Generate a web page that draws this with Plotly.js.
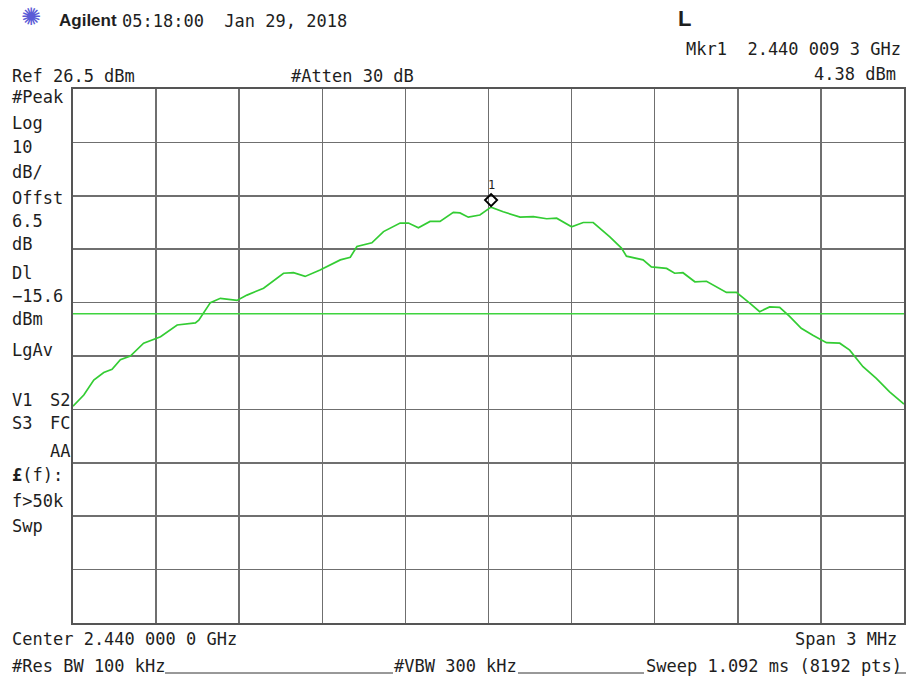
<!DOCTYPE html>
<html>
<head>
<meta charset="utf-8">
<script src="https://cdn.plot.ly/plotly-3.0.1.min.js"></script>
<style>
  html, body { margin: 0; padding: 0; background: #ffffff; }
  #chart { width: 907px; height: 676px; }
</style>
</head>
<body>
<div id="chart"></div>
<script>
// Swept spectrum trace, 2.44 GHz centre, 3 MHz span
const freqMHz = [
  2438.500, 2438.539, 2438.575, 2438.611, 2438.641, 2438.671, 2438.707, 2438.755, 2438.816, 2438.876,
  2438.942, 2438.954, 2438.996, 2439.032, 2439.092, 2439.128, 2439.188, 2439.260, 2439.296, 2439.338,
  2439.392, 2439.465, 2439.501, 2439.525, 2439.579, 2439.621, 2439.681, 2439.711, 2439.747, 2439.789,
  2439.825, 2439.873, 2439.897, 2439.927, 2439.969, 2440.009, 2440.053, 2440.114, 2440.162, 2440.210,
  2440.246, 2440.300, 2440.342, 2440.378, 2440.438, 2440.480, 2440.498, 2440.558, 2440.588, 2440.643,
  2440.672, 2440.702, 2440.745, 2440.787, 2440.859, 2440.895, 2440.943, 2440.979, 2441.015, 2441.051,
  2441.087, 2441.129, 2441.171, 2441.220, 2441.268, 2441.304, 2441.352, 2441.400, 2441.448, 2441.500
];
const levelDbm = [
  -32.9, -30.8, -28.0, -26.6, -26.0, -24.2, -23.5, -21.1, -19.9, -17.7,
  -17.3, -16.8, -13.5, -12.7, -13.1, -12.1, -10.8, -8.0, -7.9, -8.6,
  -7.4, -5.5, -5.0, -3.0, -2.3, -0.2, 1.4, 1.4, 0.5, 1.7,
  1.7, 3.4, 3.3, 2.5, 2.9, 4.38, 3.5, 2.5, 2.6, 2.2,
  2.3, 0.7, 1.5, 1.5, -1.2, -3.3, -4.8, -5.5, -6.8, -7.1,
  -8.0, -7.9, -9.6, -9.5, -11.6, -11.6, -13.6, -15.2, -14.3, -14.4,
  -16.1, -18.3, -19.6, -21.0, -21.1, -22.4, -25.5, -27.7, -30.2, -32.5
];

// Instrument settings
const centerMHz = 2440.0;
const spanMHz = 3;
const refLevel = 26.5;
const dbPerDiv = 10;
const displayLine = -15.6;
const markerFreqMHz = 2440.0093;
const markerLevel = 4.38;

// Screen annotation texts
const leftPanel = ["#Peak", "Log", "10", "dB/", "Offst", "6.5", "dB", "Dl", "\u221215.6", "dBm", "LgAv"];
const leftPanelY = [97, 123, 147, 172, 198, 221, 244, 273, 296, 319, 350];

const W = 907, H = 676;
const M = { l: 73, r: 3, t: 89, b: 53 };
const PW = W - M.l - M.r, PH = H - M.t - M.b;
const px = x => (x - M.l) / PW;
const py = y => (H - M.b - y) / PH;

const MONO = "DejaVu Sans Mono";
const INK = "#1e1e1e";

function label(text, x, y, anchor, opts) {
  opts = opts || {};
  return {
    xref: "paper", yref: "paper",
    x: px(x), y: py(y),
    xanchor: anchor || "left", yanchor: "middle",
    text: text, showarrow: false,
    font: { family: opts.family || MONO, size: opts.size || 17, color: opts.color || INK },
    borderpad: 0
  };
}

const annotations = [
  label("\u273A", 31, 17, "center", { family: "DejaVu Sans", size: 24, color: "#5b5bd6" }),
  label("<b>Agilent</b>", 58, 21, "left", { family: "Liberation Sans", size: 17 }),
  label("05:18:00  Jan 29, 2018", 121, 21, "left"),
  label("<b>L</b>", 677, 19, "left", { family: "Liberation Sans", size: 22 }),
  label("Mkr1  2.440 009 3 GHz", 902, 49, "right"),
  label(markerLevel.toFixed(2) + " dBm", 897, 74, "right"),
  label("Ref " + refLevel + " dBm", 11, 75.5, "left"),
  label("#Atten 30 dB", 290, 75.5, "left"),
  label("V1", 11, 400, "left"),
  label("S2", 71, 400, "right"),
  label("S3", 11, 423, "left"),
  label("FC", 71, 423, "right"),
  label("AA", 71, 451, "right"),
  label("<b>\u00A3</b>(f):", 11, 475, "left"),
  label("f>50k", 11, 501, "left"),
  label("Swp", 11, 526, "left"),
  label("Center 2.440 000 0 GHz", 11, 639, "left"),
  label("Span " + spanMHz + " MHz", 898, 639, "right"),
  label("#Res BW 100 kHz", 11, 665.5, "left"),
  label("#VBW 300 kHz", 393, 665.5, "left"),
  label("Sweep 1.092 ms (8192 pts)", 645, 665.5, "left"),
  // marker number above the diamond
  {
    x: markerFreqMHz, y: markerLevel, xref: "x", yref: "y",
    text: "1", showarrow: false, yshift: 22, xanchor: "center", yanchor: "middle",
    font: { family: MONO, size: 12, color: INK }
  }
];
leftPanel.forEach((t, i) => annotations.push(label(t, 11, leftPanelY[i], "left")));

function underline(x0, x1) {
  return {
    type: "line", xref: "paper", yref: "paper",
    x0: px(x0), x1: px(x1), y0: py(673), y1: py(673),
    line: { color: "#333333", width: 1 }
  };
}

const shapes = [
  // display line
  {
    type: "line", xref: "paper", yref: "y", x0: 0, x1: 1,
    y0: displayLine, y1: displayLine,
    line: { color: "#3fd43f", width: 1.5 }
  },
  // marker diamond sitting on the trace point
  {
    type: "path", xref: "x", yref: "y",
    xsizemode: "pixel", ysizemode: "pixel",
    xanchor: markerFreqMHz, yanchor: markerLevel,
    path: "M0,1 L6,7 L0,13 L-6,7 Z",
    line: { color: "#000000", width: 2 },
    fillcolor: "rgba(0,0,0,0)"
  },
  underline(165, 393),
  underline(518, 644),
  underline(895, 906)
];

const trace = {
  x: freqMHz, y: levelDbm,
  type: "scatter", mode: "lines",
  line: { color: "#33cc33", width: 1.7 },
  hoverinfo: "skip"
};

const half = spanMHz / 2;
const layout = {
  width: W, height: H,
  margin: M,
  paper_bgcolor: "#ffffff", plot_bgcolor: "#ffffff",
  showlegend: false,
  xaxis: {
    range: [centerMHz - half, centerMHz + half],
    tick0: centerMHz - half, dtick: spanMHz / 10,
    showgrid: true, gridcolor: "#6f6f6f", gridwidth: 1.5,
    showticklabels: false, ticks: "", zeroline: false,
    showline: true, mirror: true, linecolor: "#555555", linewidth: 2
  },
  yaxis: {
    range: [refLevel - 10 * dbPerDiv, refLevel],
    tick0: refLevel, dtick: dbPerDiv,
    showgrid: true, gridcolor: "#6f6f6f", gridwidth: 1.5,
    showticklabels: false, ticks: "", zeroline: false,
    showline: true, mirror: true, linecolor: "#555555", linewidth: 2
  },
  annotations: annotations,
  shapes: shapes
};

Plotly.newPlot("chart", [trace], layout, { staticPlot: true, displayModeBar: false });
</script>
</body>
</html>
